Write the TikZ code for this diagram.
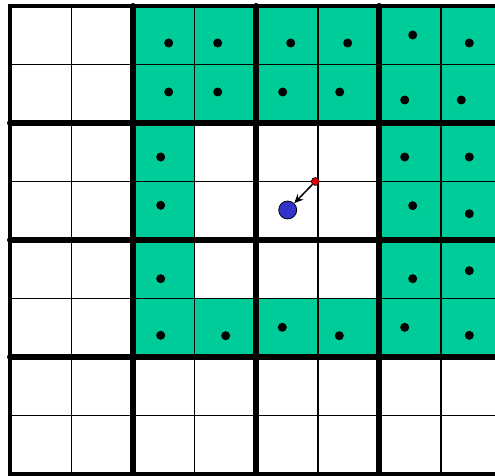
\documentclass[tikz,border=0pt]{standalone}
\usetikzlibrary{arrows.meta}
\definecolor{tealfill}{RGB}{0,204,153}
\definecolor{bluept}{RGB}{51,51,204}
\definecolor{redpt}{RGB}{225,0,0}
\tikzset{
  thinline/.style={line width=1.3pt, black},
  thickline/.style={line width=6pt, black, line cap=round},
  borderline/.style={line width=3.2pt, black},
  sample/.style={fill=black},
  srcpt/.style={circle, fill=redpt, draw=black, line width=0.6pt, inner sep=0pt, minimum size=8pt},
  dstpt/.style={circle, fill=bluept, draw=black, line width=0.8pt, inner sep=0pt, minimum size=18pt},
  movearrow/.style={-{Stealth[length=9pt,width=8pt]}, line width=1.5pt, black}
}
\begin{document}
\begin{tikzpicture}[x=1pt,y=-1pt]
\useasboundingbox (0,0) rectangle (495,476);
\clip (0,0) rectangle (495,476);
\def\cw{61.57}
\def\ch{58.5}
% teal cells
\foreach \c/\r in {2/0,3/0,4/0,5/0,6/0,7/0,
                   2/1,3/1,4/1,5/1,6/1,7/1,
                   2/2,6/2,7/2,
                   2/3,6/3,7/3,
                   2/4,6/4,7/4,
                   2/5,3/5,4/5,5/5,6/5,7/5}
  \fill[tealfill] ({10+\c*\cw},{6+\r*\ch}) rectangle ++(\cw,\ch);
% thin grid
\foreach \i in {0,...,8} {
  \draw[thinline] ({10+\i*\cw},6) -- ({10+\i*\cw},474);
  \draw[thinline] (10,{6+\i*\ch}) -- (505,{6+\i*\ch});
}
% thick block lines
\foreach \i in {2,4,6} {
  \draw[thickline] ({10+\i*\cw},6) -- ({10+\i*\cw},474);
  \draw[thickline] (10,{6+\i*\ch}) -- (505,{6+\i*\ch});
}
% border
\draw[borderline] (505,6) -- (10,6) -- (10,474) -- (505,474);
% sample dots
\foreach \x/\y in {168.7/43,217.7/43,290.7/43,347.7/43,412.7/35,469.3/43,
                   168.7/92,217.7/92,282.7/92,339.7/92,404.7/100,461.3/100,
                   160.7/157,404.7/157,469.3/157,
                   160.7/205.3,412.7/205.7,469.3/213.7,
                   160.7/278.7,412.7/278.7,469.3/270.7,
                   160.7/335.3,225.7/335.7,282.3/327.3,339.3/335.7,404.7/327.3,469.3/335.3}
  \fill[sample] (\x,\y) circle (4.5pt);
% points and arrow
\node[srcpt] (src) at (315.3,181.5) {};
\node[dstpt] (dst) at (287.7,210) {};
\draw[movearrow] (src) -- (dst);
\end{tikzpicture}
\end{document}
